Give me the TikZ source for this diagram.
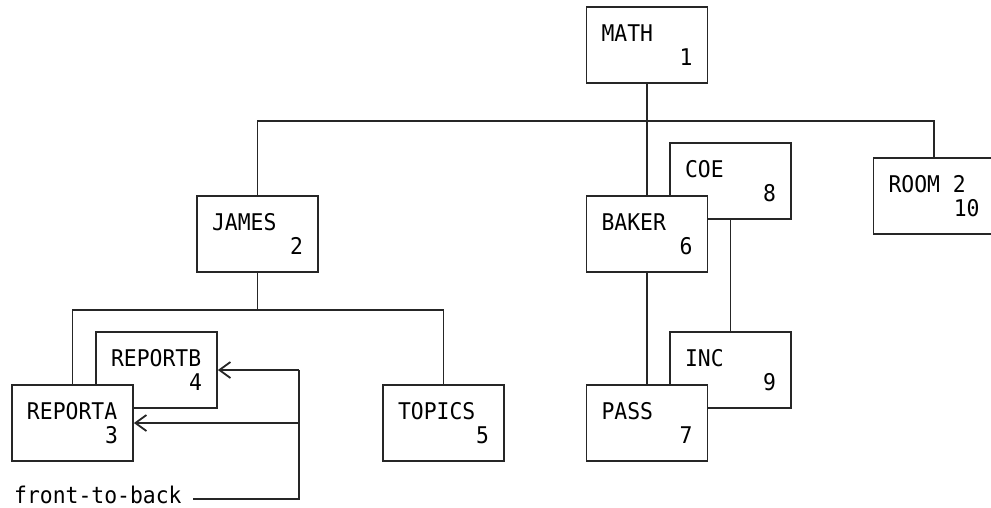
\documentclass[tikz,border=0pt]{standalone}
\usepackage{fontspec}
\setmonofont[FakeStretch=0.93]{DejaVu Sans Mono}
\usetikzlibrary{arrows.meta}

\tikzset{
  seg/.style={draw=black!85, fill=white, line width=1.8pt,
    minimum width=121pt, minimum height=76pt, inner sep=0pt,
    text width=91pt, align=left,
    font=\ttfamily\fontsize{23}{24}\selectfont},
  link/.style={draw=black!85, line width=1.8pt},
  ptr/.style={link, -{Straight Barb[length=11pt, width=16pt, line width=1.8pt]}},
  note/.style={inner sep=0pt, anchor=base west,
    font=\ttfamily\fontsize{23}{24}\selectfont}
}
% segment box: name on the first line, number flush right below
\newcommand{\segtext}[2]{#1\\\hbox to 91pt{\hfil #2}}
\newcommand{\monospace}{\hspace*{0.56em}}

\begin{document}
\begin{tikzpicture}[x=1pt, y=-1pt]
  \path[fill=white, use as bounding box] (0,0) rectangle (991,507);

  % root and first level
  \node[seg] (math)  at (647,45)    {\segtext{MATH}{1}};
  \node[seg] (james) at (257.5,234) {\segtext{JAMES}{2}};
  \node[seg] (coe)   at (730.5,181) {\segtext{COE}{8}};
  \node[seg] (baker) at (647,234)   {\segtext{BAKER}{6}};
  \node[seg] (room)  at (934,196)   {\segtext{ROOM\monospace 2}{10}};

  % second level
  \node[seg] (reportb) at (156.5,370) {\segtext{REPORTB}{4}};
  \node[seg] (reporta) at (72.5,423)  {\segtext{REPORTA}{3}};
  \node[seg] (topics)  at (443.5,423) {\segtext{TOPICS}{5}};
  \node[seg] (inc)     at (730.5,370) {\segtext{INC}{9}};
  \node[seg] (pass)    at (647,423)   {\segtext{PASS}{7}};

  % tree connectors
  \coordinate (topbus) at (647,121);
  \coordinate (jbus)   at (257.5,310);
  \draw[link] (math.south) -- (baker.north);
  \draw[link] (james.north) |- (topbus) -| (room.north);
  \draw[link] (james.south) -- (jbus);
  \draw[link] (reporta.north) |- (jbus) -| (topics.north);
  \draw[link] (baker.south) -- (pass.north);
  \draw[link] (coe.south) -- (inc.north);

  % front-to-back pointers
  \node[note] (ftb) at (14,503) {front-to-back};
  \coordinate (fbstart)  at (193,499);
  \coordinate (fbcorner) at (299,499);
  \coordinate (armB)     at (299,370);
  \coordinate (armA)     at (299,423);
  \draw[link] (fbstart) -- (fbcorner) -- (armB);
  \draw[ptr] (armB) -- (reportb.east);
  \draw[ptr] (armA) -- (reporta.east);
\end{tikzpicture}
\end{document}
